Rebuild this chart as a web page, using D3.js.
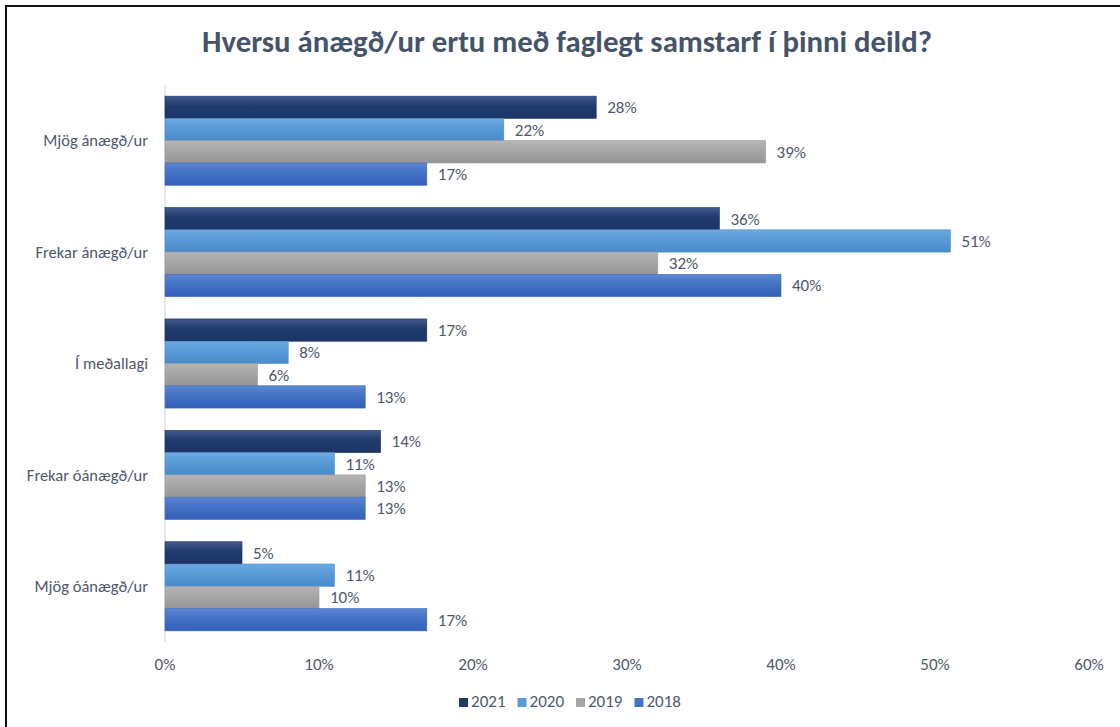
<!DOCTYPE html>
<html>
<head>
<meta charset="utf-8">
<script src="https://cdn.jsdelivr.net/npm/d3@7"></script>
<style>
  html, body { margin: 0; padding: 0; background: #fff; }
  svg text { font-family: Carlito, Calibri, Lato, sans-serif; }
</style>
</head>
<body>
<svg id="chart" width="1120" height="727"></svg>
<script>
// chart data
var categories = ["Mjög ánægð/ur", "Frekar ánægð/ur", "Í meðallagi", "Frekar óánægð/ur", "Mjög óánægð/ur"];
var years = ["2021", "2020", "2019", "2018"];
var values2021 = [28, 36, 17, 14, 5];
var values2020 = [22, 51, 8, 11, 11];
var values2019 = [39, 32, 6, 13, 10];
var values2018 = [17, 40, 13, 13, 17];
var xTicks = [0, 10, 20, 30, 40, 50, 60];
var title = "Hversu ánægð/ur ertu með faglegt samstarf í þinni deild?";

var seriesValues = [values2021, values2020, values2019, values2018];

var svg = d3.select("#chart");
var W = 1120, H = 727;
var textColor = "#4d596d";

// frame (only top/left edges are inside the picture)
svg.append("rect")
    .attr("x", 6).attr("y", 6)
    .attr("width", W + 20).attr("height", H + 20)
    .attr("fill", "#fff").attr("stroke", "#111").attr("stroke-width", 2);

// gradients for the bars
var grads = [
    ["#41598a", "#203a6f", "#1b3566"],
    ["#6eaae0", "#579ad6", "#4a8bcb"],
    ["#b5b5b5", "#a6a6a6", "#959595"],
    ["#5c86d3", "#4472c4", "#335fba"]
];
var strokes = ["#1a3162", "#4c8ccc", "#999999", "#3b67bb"];
var legendColors = ["#203864", "#5b9bd5", "#a5a5a5", "#4472c4"];
var defs = svg.append("defs");
grads.forEach(function(g, i){
    var lg = defs.append("linearGradient").attr("id", "g" + i)
        .attr("x1", 0).attr("y1", 0).attr("x2", 0).attr("y2", 1);
    lg.append("stop").attr("offset", "0%").attr("stop-color", g[0]);
    lg.append("stop").attr("offset", "45%").attr("stop-color", g[1]);
    lg.append("stop").attr("offset", "100%").attr("stop-color", g[2]);
});

var x = d3.scaleLinear().domain([0, 60]).range([165, 1089]);
var y = d3.scaleBand().domain(categories).range([85, 642]).paddingInner(0.2).paddingOuter(0.1);
var y1 = d3.scaleBand().domain(years).range([0, y.bandwidth()]);

// vertical axis line
svg.append("line")
    .attr("x1", x(0)).attr("x2", x(0))
    .attr("y1", 85).attr("y2", 642)
    .attr("stroke", "#d9d9d9").attr("stroke-width", 1.2);

// category labels
svg.selectAll(".cat")
    .data(categories)
    .enter().append("text")
    .attr("class", "cat")
    .attr("x", 148)
    .attr("y", function(d){ return y(d) + y.bandwidth() / 2; })
    .attr("dy", "0.35em")
    .attr("text-anchor", "end")
    .attr("fill", textColor)
    .style("font-size", "16.5px")
    .text(function(d){ return d; });

// x tick labels
svg.selectAll(".tick-label")
    .data(xTicks)
    .enter().append("text")
    .attr("class", "tick-label")
    .attr("x", function(d){ return x(d); })
    .attr("y", 670)
    .attr("text-anchor", "middle")
    .attr("fill", textColor)
    .style("font-size", "17px")
    .text(function(d){ return d + "%"; });

// bars
var rows = [];
categories.forEach(function(c, ci){
    years.forEach(function(yr, si){
        rows.push({cat: c, year: yr, s: si, v: seriesValues[si][ci]});
    });
});

var groups = svg.selectAll(".bar")
    .data(rows)
    .enter().append("g").attr("class", "bar");

groups.append("rect")
    .attr("x", x(0))
    .attr("y", function(d){ return y(d.cat) + y1(d.year); })
    .attr("width", function(d){ return x(d.v) - x(0); })
    .attr("height", y1.bandwidth())
    .attr("fill", function(d){ return "url(#g" + d.s + ")"; })
    .attr("stroke", function(d){ return strokes[d.s]; })
    .attr("stroke-width", 0.6);

groups.append("text")
    .attr("x", function(d){ return x(d.v) + 11; })
    .attr("y", function(d){ return y(d.cat) + y1(d.year) + y1.bandwidth() / 2; })
    .attr("dy", "0.35em")
    .attr("fill", textColor)
    .style("font-size", "17px")
    .text(function(d){ return d.v + "%"; });

// title, fitted to the width of the original
var t = svg.append("text")
    .attr("x", 567).attr("y", 52)
    .attr("text-anchor", "middle")
    .attr("fill", "#44546a")
    .style("font-weight", "bold")
    .style("font-size", "26px")
    .text(title);
var tw = t.node().getComputedTextLength();
t.style("font-size", (26 * 730 / tw).toFixed(2) + "px");

// legend
var legend = svg.append("g");
var lx = 0;
years.forEach(function(yr, i){
    var item = legend.append("g").attr("transform", "translate(" + lx + ",0)");
    item.append("rect").attr("x", 0).attr("y", -9).attr("width", 9).attr("height", 9)
        .attr("fill", legendColors[i]);
    var lt = item.append("text").attr("x", 12).attr("y", 0)
        .attr("fill", textColor).style("font-size", "17px").text(yr);
    lx += 12 + lt.node().getComputedTextLength() + 12;
});
var lw = lx - 12;
legend.attr("transform", "translate(" + (570 - lw / 2) + ",707)");
</script>
</body>
</html>
